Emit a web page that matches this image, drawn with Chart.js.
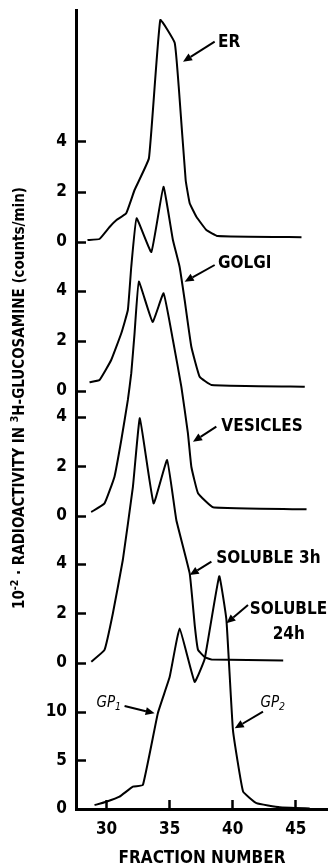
<!DOCTYPE html>
<html>
<head>
<meta charset="utf-8">
<script src="https://cdn.jsdelivr.net/npm/chart.js@4.4.1/dist/chart.umd.min.js"></script>
<style>
  html, body { margin: 0; padding: 0; background: #fff; }
  #wrap { width: 328px; height: 867px; }
</style>
</head>
<body>
<div id="wrap"><canvas id="chart" width="328" height="867"></canvas></div>
<script>
// ---- data (fraction number / 10^-2 counts per min) ----
const erFraction = [28.49, 29.44, 30.24, 30.79, 31.56, 32.22, 33.36, 34.26, 35.4, 35.74, 36.27, 36.59, 37.12, 37.91, 38.81, 45.45];
const erValue    = [0.08, 0.12, 0.6, 0.88, 1.15, 2.08, 3.35, 8.88, 7.97, 6.08, 2.48, 1.55, 1.01, 0.48, 0.24, 0.19];

const golgiFraction = [28.65, 29.44, 30.37, 31.17, 31.69, 31.96, 32.38, 33.55, 34.51, 35.26, 35.79, 36.19, 36.72, 37.38, 38.31, 45.71];
const golgiValue    = [0.35, 0.44, 1.24, 2.31, 3.24, 4.97, 6.91, 5.56, 8.17, 6.04, 4.97, 3.64, 1.77, 0.57, 0.24, 0.17];

const vesFraction = [28.79, 29.84, 30.63, 31.17, 31.69, 31.96, 32.22, 32.56, 33.65, 34.52, 35.26, 35.93, 36.45, 36.72, 37.25, 38.44, 45.85];
const vesValue    = [0.16, 0.51, 1.59, 3.07, 4.69, 5.77, 7.38, 9.47, 7.84, 9.0, 7.11, 5.22, 3.34, 1.99, 0.92, 0.35, 0.27];

const sol3Fraction = [28.79, 29.84, 30.5, 31.29, 32.09, 32.64, 33.73, 34.8, 35.53, 36.59, 37.0, 37.25, 37.78, 38.33, 44.0];
const sol3Value    = [0.05, 0.53, 2.0, 4.16, 7.12, 9.89, 6.45, 8.2, 5.78, 3.62, 1.47, 0.53, 0.24, 0.14, 0.1];

const sol24Fraction = [29.05, 29.98, 31.03, 32.09, 32.88, 34.07, 35.0, 35.79, 36.98, 37.78, 38.93, 39.5, 40.02, 40.82, 41.88, 43.73, 46.1];
const sol24Value    = [0.4, 0.75, 1.27, 2.3, 2.47, 9.9, 13.6, 18.6, 13.1, 15.5, 24.0, 19.5, 8.1, 1.8, 0.6, 0.17, 0.05];

// tick labels
const xTickValues = [30, 35, 40, 45];
const erTicks = [0, 2, 4];
const golgiTicks = [0, 2, 4];
const vesTicks = [0, 2, 4];
const sol3Ticks = [0, 2, 4];
const sol24Ticks = [0, 5, 10];

// ---- layout: each profile sits on its own baseline (px above the x axis) ----
const PLOT_H = 799;
const panels = [
  { id: "yER",    fr: erFraction,    val: erValue,    ticks: erTicks,    base: 567, k: 25 },
  { id: "yGolgi", fr: golgiFraction, val: golgiValue, ticks: golgiTicks, base: 418, k: 25 },
  { id: "yVes",   fr: vesFraction,   val: vesValue,   ticks: vesTicks,   base: 293, k: 24.75 },
  { id: "ySol3",  fr: sol3Fraction,  val: sol3Value,  ticks: sol3Ticks,  base: 146, k: 24.75 },
  { id: "ySol24", fr: sol24Fraction, val: sol24Value, ticks: sol24Ticks, base: 0,   k: 9.7 }
];

const FAMILY = "'Liberation Sans Narrow', 'DejaVu Sans Condensed', 'Roboto', sans-serif";

// visible left axis: every panel's ticks on one line
const yTickPos = [];
const yTickText = [];
panels.forEach(p => {
  p.ticks.forEach(t => {
    yTickPos.push(p.base + t * p.k);
    yTickText.push(String(t));
  });
});

// ---- labels and arrows (x in fraction, y in px above the axis) ----
const labels = [
  { text: [["ER", 0]], x: 38.83, y: 766.5 },
  { text: [["GOLGI", 0]], x: 38.83, y: 545.7 },
  { text: [["VESICLES", 0]], x: 39.1, y: 382.3 },
  { text: [["SOLUBLE 3h", 0]], x: 38.7, y: 250 },
  { text: [["SOLUBLE", 0]], x: 41.35, y: 199.5 },
  { text: [["24h", 0]], x: 43.17, y: 174 },
  { text: [["GP", 0], ["1", -1]], x: 29.2, y: 106, italic: true },
  { text: [["GP", 0], ["2", -1]], x: 42.2, y: 106, italic: true }
];
const arrows = [
  [38.57, 767.3, 36.06, 747.3],
  [38.57, 544, 36.19, 527.3],
  [38.7, 382.3, 36.85, 367.3],
  [38.31, 247.3, 36.59, 234],
  [41.21, 204, 39.5, 185.7],
  [31.43, 103, 33.81, 95.7],
  [42.4, 97.3, 40.16, 80.7]
];

function drawSegments(ctx, segs, x, y, size, italic) {
  let cx = x;
  segs.forEach(([t, s]) => {
    const fs = s ? size * 0.7 : size;
    ctx.font = (italic ? "italic " : "bold ") + fs + "px " + FAMILY;
    ctx.fillText(t, cx, y + (s > 0 ? -size * 0.3 : s < 0 ? size * 0.3 : 0));
    cx += ctx.measureText(t).width;
  });
  return cx - x;
}

function segWidth(ctx, segs, size, italic) {
  let w = 0;
  segs.forEach(([t, s]) => {
    ctx.font = (italic ? "italic " : "bold ") + (s ? size * 0.7 : size) + "px " + FAMILY;
    w += ctx.measureText(t).width;
  });
  return w;
}

const notes = {
  id: "notes",
  afterDatasetsDraw(chart) {
    const { ctx } = chart;
    const sx = chart.scales.x, sy = chart.scales.y;
    ctx.save();
    ctx.fillStyle = "#000";
    ctx.strokeStyle = "#000";
    ctx.textBaseline = "middle";
    labels.forEach(l => {
      drawSegments(ctx, l.text, sx.getPixelForValue(l.x), sy.getPixelForValue(l.y), l.italic ? 15 : 17, l.italic);
    });
    ctx.lineWidth = 2;
    arrows.forEach(a => {
      const x1 = sx.getPixelForValue(a[0]), y1 = sy.getPixelForValue(a[1]);
      const x2 = sx.getPixelForValue(a[2]), y2 = sy.getPixelForValue(a[3]);
      const ang = Math.atan2(y2 - y1, x2 - x1);
      const hl = 9, hw = 4;
      const bx = x2 - hl * Math.cos(ang), by = y2 - hl * Math.sin(ang);
      ctx.beginPath();
      ctx.moveTo(x1, y1);
      ctx.lineTo(bx, by);
      ctx.stroke();
      ctx.beginPath();
      ctx.moveTo(x2, y2);
      ctx.lineTo(bx + hw * Math.sin(ang), by - hw * Math.cos(ang));
      ctx.lineTo(bx - hw * Math.sin(ang), by + hw * Math.cos(ang));
      ctx.closePath();
      ctx.fill();
    });

    // y axis title with superscripts
    const segs = [["10", 0], ["-2", 1], [" \u00b7 RADIOACTIVITY IN ", 0], ["3", 1], ["H-GLUCOSAMINE (counts/min)", 0]];
    ctx.translate(20, 398);
    ctx.rotate(-Math.PI / 2);
    const w = segWidth(ctx, segs, 15, false);
    drawSegments(ctx, segs, -w / 2, 0, 15, false);
    ctx.restore();
  }
};

// ---- scales ----
const scales = {
  x: {
    type: "linear",
    min: 27.58,
    max: 47.55,
    afterBuildTicks: s => { s.ticks = xTickValues.map(v => ({ value: v })); },
    afterFit: s => { s.height = 58; s.paddingLeft = 0; s.paddingRight = 0; },
    border: { display: true, color: "#000", width: 3 },
    grid: { drawOnChartArea: false, drawTicks: true, tickLength: -9, tickWidth: 2.5, tickColor: "#000" },
    ticks: { color: "#000", padding: 19, font: { family: FAMILY, size: 17, weight: "bold" } },
    title: {
      display: true,
      text: "FRACTION NUMBER",
      color: "#000",
      padding: { top: 0, bottom: 0 },
      font: { family: FAMILY, size: 17, weight: "bold", lineHeight: 1 }
    }
  },
  y: {
    type: "linear",
    axis: "y",
    position: "left",
    min: 0,
    max: PLOT_H,
    afterBuildTicks: s => { s.ticks = yTickPos.map(v => ({ value: v })); },
    afterFit: s => { s.width = 76; s.paddingTop = 0; s.paddingBottom = 0; },
    border: { display: true, color: "#000", width: 3 },
    grid: { drawOnChartArea: false, drawTicks: true, tickLength: -10, tickWidth: 2.5, tickColor: "#000" },
    ticks: {
      autoSkip: false,
      color: "#000",
      padding: 19,
      font: { family: FAMILY, size: 17, weight: "bold" },
      callback: (v, i) => yTickText[i]
    }
  }
};
panels.forEach(p => {
  scales[p.id] = {
    type: "linear",
    axis: "y",
    display: false,
    min: -p.base / p.k,
    max: (PLOT_H - p.base) / p.k
  };
});

new Chart(document.getElementById("chart"), {
  type: "line",
  data: {
    datasets: panels.map(p => ({
      label: p.id,
      data: p.fr.map((f, i) => ({ x: f, y: p.val[i] })),
      xAxisID: "x",
      yAxisID: p.id,
      borderColor: "#000",
      borderWidth: 2,
      pointRadius: 0,
      tension: 0.1,
      fill: false
    }))
  },
  options: {
    responsive: false,
    devicePixelRatio: 1,
    animation: false,
    layout: { padding: { top: 10, right: 0, left: 0, bottom: 0 } },
    plugins: {
      legend: { display: false },
      tooltip: { enabled: false }
    },
    scales
  },
  plugins: [notes]
});
</script>
</body>
</html>
